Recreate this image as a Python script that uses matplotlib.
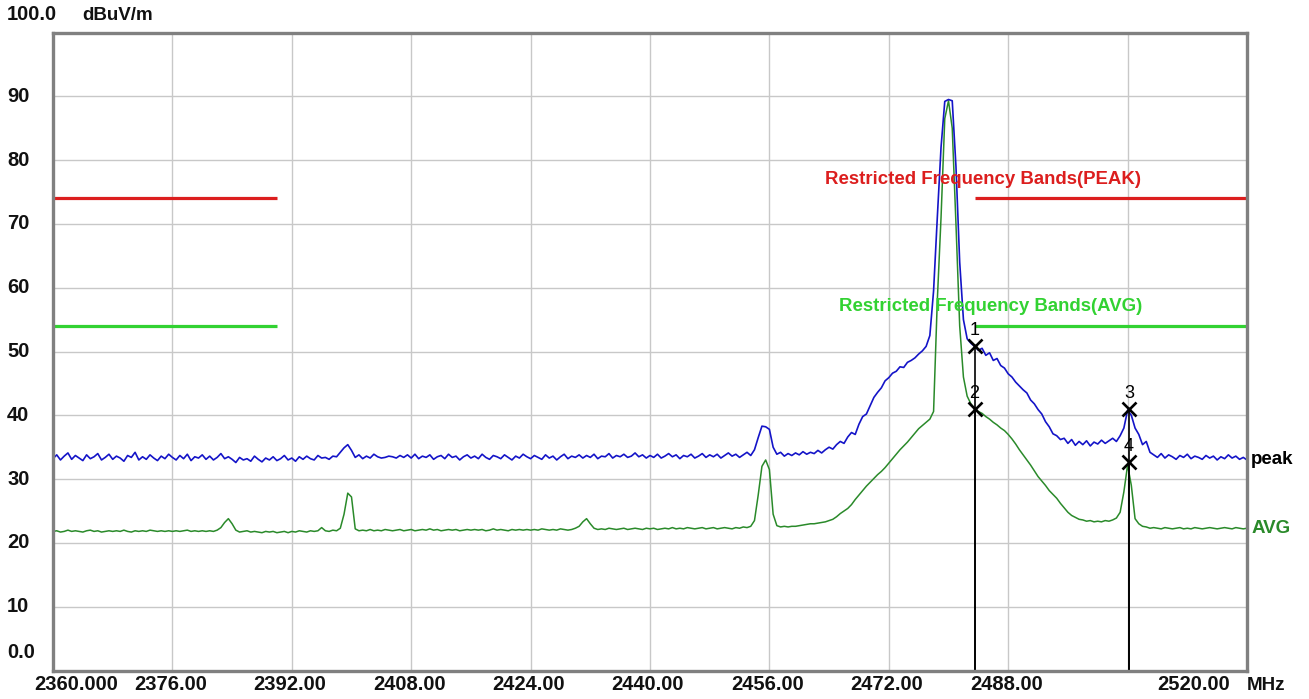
import numpy as np
import matplotlib
matplotlib.use("Agg")
import matplotlib.pyplot as plt
from matplotlib.transforms import blended_transform_factory

# ---- data -------------------------------------------------------------
freq_start, freq_stop, freq_step = 2360.0, 2520.0, 0.5

peak_trace = [
    33.2, 33.8, 33.0, 33.6, 34.1, 33.1, 33.7, 33.3, 32.9, 33.8, 33.2, 33.5, 34.0, 33.0, 33.4, 33.9,
    33.1, 33.6, 33.3, 32.8, 33.7, 33.4, 34.2, 33.0, 33.5, 33.1, 33.8, 33.3, 32.9, 33.6, 33.2, 33.9,
    33.4, 33.0, 33.7, 33.2, 33.9, 32.9, 33.5, 33.3, 33.8, 33.1, 33.6, 33.0, 33.4, 34.0, 33.2, 33.5,
    33.1, 32.6, 33.4, 33.0, 33.2, 32.8, 33.6, 33.1, 32.7, 33.3, 33.0, 33.5, 32.9, 33.2, 33.7, 33.0,
    33.3, 32.8, 33.5, 33.1, 33.6, 33.2, 33.0, 33.7, 33.3, 33.4, 33.1, 33.6, 33.5, 34.2, 34.9, 35.4,
    34.5, 33.4, 33.8, 33.2, 33.6, 33.3, 33.9, 33.5, 33.3, 33.4, 33.6, 33.5, 33.3, 33.7, 33.4, 33.8,
    33.3, 33.9, 33.2, 33.6, 33.4, 33.8, 33.1, 33.5, 33.7, 33.2, 33.9, 33.4, 33.6, 33.0, 33.5, 33.8,
    33.3, 33.6, 33.2, 33.9, 33.4, 33.1, 33.7, 33.5, 33.2, 33.8, 33.4, 33.0, 33.6, 33.3, 33.9, 33.5,
    33.2, 33.7, 33.4, 33.1, 33.8, 33.3, 33.6, 33.0, 33.5, 33.9, 33.2, 33.6, 33.4, 33.8, 33.3, 33.7,
    33.4, 33.9, 33.2, 33.6, 33.5, 34.0, 33.3, 33.7, 33.5, 33.9, 33.4, 33.6, 34.1, 33.5, 33.8, 33.3,
    33.7, 33.4, 33.9, 33.3, 33.6, 34.0, 33.5, 33.8, 33.2, 33.7, 33.5, 33.9, 33.3, 33.6, 34.0, 33.4,
    33.8, 33.5, 33.9, 33.3, 33.7, 34.1, 33.6, 33.9, 33.4, 33.8, 34.2, 33.7, 34.6, 36.5, 38.3, 38.2,
    37.8, 35.0, 33.9, 34.2, 33.6, 34.0, 33.7, 34.1, 33.8, 34.3, 33.9, 34.2, 34.0, 34.5, 34.1, 34.6,
    35.0, 34.7, 35.4, 35.9, 35.6, 36.6, 37.3, 37.0, 38.6, 39.8, 40.2, 41.5, 42.8, 43.6, 44.3, 45.4,
    45.9, 46.6, 46.9, 47.6, 47.5, 48.3, 48.6, 49.0, 49.6, 50.1, 50.8, 52.5, 59.5, 71.0, 82.0, 89.2,
    89.5, 89.3, 79.0, 64.0, 55.0, 52.0, 51.3, 50.8, 50.2, 50.5, 49.4, 49.8, 48.6, 48.9, 47.8, 47.4,
    46.5, 46.0, 45.2, 44.6, 44.0, 43.5, 42.4, 41.8, 40.9, 40.2, 39.0, 38.2, 37.1, 36.8, 36.2, 36.4,
    35.6, 36.2, 35.3, 35.9, 35.4, 36.0, 35.2, 35.8, 35.5, 36.1, 35.6, 36.0, 36.4, 35.9, 36.8, 38.0,
    40.8, 40.0, 38.0, 37.0, 35.4, 35.9, 34.2, 33.8, 33.4, 34.0, 33.3, 33.8, 33.5, 33.1, 33.7, 33.4,
    33.9, 33.2, 33.6, 33.4, 33.1, 33.7, 33.3, 33.6, 33.0, 33.5, 33.2, 33.8, 33.3, 33.6, 33.1, 33.4,
    33.0,
]

avg_trace = [
    21.8, 21.9, 21.7, 21.8, 22.0, 21.8, 21.9, 21.8, 21.7, 21.9, 22.0, 21.8, 21.9, 21.7, 21.8, 21.9,
    21.8, 21.9, 21.8, 22.0, 21.8, 21.7, 21.9, 21.8, 21.9, 21.8, 22.0, 21.9, 21.8, 21.9, 21.8, 21.9,
    21.8, 21.9, 21.8, 21.9, 22.0, 21.8, 21.9, 21.8, 21.9, 21.8, 21.9, 21.8, 22.0, 22.4, 23.2, 23.8,
    23.0, 22.0, 21.7, 21.8, 21.9, 21.7, 21.8, 21.7, 21.6, 21.8, 21.7, 21.8, 21.6, 21.7, 21.8, 21.6,
    21.8, 21.7, 21.9, 21.8, 21.7, 21.9, 21.8, 21.9, 22.4, 21.9, 21.8, 22.0, 21.9, 22.3, 24.5, 27.8,
    27.2, 22.2, 21.9, 22.0, 21.9, 22.1, 21.9, 22.0, 21.9, 22.1, 22.0, 21.9, 22.0, 22.1, 21.9, 22.0,
    22.1, 21.9, 22.0, 22.1, 22.0, 22.2, 22.0, 22.1, 21.9, 22.0, 22.1, 22.0, 22.1, 21.9, 22.0, 22.1,
    22.0, 22.1, 22.0, 22.1, 21.9, 22.0, 22.2, 22.0, 22.1, 22.0, 21.9, 22.1, 22.0, 22.1, 22.0, 22.1,
    22.0, 22.1, 22.0, 22.2, 22.1, 22.0, 22.1, 22.0, 22.2, 22.1, 22.0, 22.1, 22.3, 22.6, 23.3, 23.8,
    23.0, 22.3, 22.1, 22.2, 22.1, 22.3, 22.2, 22.1, 22.2, 22.3, 22.1, 22.2, 22.3, 22.2, 22.1, 22.3,
    22.2, 22.3, 22.1, 22.2, 22.3, 22.2, 22.4, 22.2, 22.3, 22.2, 22.4, 22.3, 22.2, 22.3, 22.4, 22.2,
    22.3, 22.4, 22.2, 22.3, 22.4, 22.3, 22.2, 22.4, 22.3, 22.5, 22.4, 22.6, 23.5, 27.5, 32.0, 33.0,
    31.5, 24.5, 22.7, 22.5, 22.6, 22.5, 22.6, 22.6, 22.7, 22.8, 22.9, 23.0, 23.0, 23.1, 23.2, 23.3,
    23.5, 23.7, 24.1, 24.6, 25.0, 25.4, 26.0, 26.8, 27.5, 28.2, 28.9, 29.5, 30.1, 30.7, 31.2, 31.8,
    32.5, 33.2, 33.9, 34.6, 35.2, 35.8, 36.5, 37.2, 37.9, 38.4, 38.9, 39.4, 40.6, 58.0, 71.0, 86.5,
    89.3, 85.0, 70.0, 54.0, 46.0, 43.0, 41.8, 41.0, 40.6, 40.3, 39.8, 39.4, 38.9, 38.5, 38.0, 37.6,
    37.0, 36.3, 35.5, 34.6, 33.8, 33.0, 32.2, 31.3, 30.4, 29.7, 29.0, 28.2, 27.6, 27.0, 26.2, 25.5,
    24.8, 24.3, 24.0, 23.7, 23.6, 23.4, 23.5, 23.3, 23.4, 23.3, 23.5, 23.4, 23.6, 23.9, 24.8, 28.0,
    32.2, 29.0, 23.8, 23.0, 22.6, 22.5, 22.3, 22.4, 22.3, 22.2, 22.4, 22.3, 22.2, 22.3, 22.4, 22.2,
    22.3, 22.2, 22.4, 22.3, 22.2, 22.3, 22.4, 22.3, 22.2, 22.3, 22.4, 22.3, 22.2, 22.4, 22.3, 22.2,
    22.3,
]

# restricted-band limits
peak_limit = 74.0
avg_limit = 54.0
band_edges_low = (2360.0, 2390.0)
band_edges_high = (2483.5, 2520.0)

# markers
marker_ids = ["1", "2", "3", "4"]
marker_freqs = [2483.5, 2483.5, 2504.2, 2504.2]
marker_levels = [50.8, 41.0, 41.0, 32.7]

x_tick_values = [2360, 2376, 2392, 2408, 2424, 2440, 2456, 2472, 2488, 2504, 2520]
x_tick_labels = ["2360.000", "2376.00", "2392.00", "2408.00", "2424.00", "2440.00",
                 "2456.00", "2472.00", "2488.00", "", "2520.00"]
y_tick_values = [0, 10, 20, 30, 40, 50, 60, 70, 80, 90, 100]
y_tick_labels = ["0.0", "10", "20", "30", "40", "50", "60", "70", "80", "90", "100.0"]

# ---- figure -----------------------------------------------------------
W, H, DPI = 1309, 699, 100
fig = plt.figure(figsize=(W / DPI, H / DPI), dpi=DPI, facecolor="white")
ax_l, ax_r, ax_t, ax_b = 53, 1247, 32.5, 670.5
ax = fig.add_axes([ax_l / W, (H - ax_b) / H, (ax_r - ax_l) / W, (ax_b - ax_t) / H])

FONT = "Liberation Sans"
LBL = 14.5
BLUE = "#1414c8"
DKGREEN = "#2a8a2a"
RED = "#dc1e1e"
LTGREEN = "#32d232"

freqs = np.arange(freq_start, freq_stop + freq_step / 2, freq_step)
assert len(freqs) == len(peak_trace) == len(avg_trace)

ax.set_xlim(freq_start, freq_stop)
ax.set_ylim(0, 100)
ax.set_xticks(x_tick_values)
ax.set_yticks(y_tick_values)
ax.tick_params(length=0, labelbottom=False, labelleft=False)
ax.grid(True, color="#c8c8c8", linewidth=1.0)
ax.set_axisbelow(True)
for sp in ax.spines.values():
    sp.set_color("#808080")
    sp.set_linewidth(2.4)

# limit lines
for lo, hi in (band_edges_low, band_edges_high):
    ax.plot([lo, hi], [peak_limit, peak_limit], color=RED, lw=2.3, solid_capstyle="butt")
    ax.plot([lo, hi], [avg_limit, avg_limit], color=LTGREEN, lw=2.3, solid_capstyle="butt")

# traces
ax.plot(freqs, avg_trace, color=DKGREEN, lw=1.1)
ax.plot(freqs, peak_trace, color=BLUE, lw=1.2)

# markers
for fid, f, lv in zip(marker_ids, marker_freqs, marker_levels):
    ax.plot([f, f], [0, lv], color="black", lw=1.2)
    ax.plot([f], [lv], marker="x", color="black", ms=10, mew=1.9)
    ax.annotate(fid, (f, lv), xytext=(0, 5), textcoords="offset points",
                ha="center", va="bottom", fontsize=13, family=FONT, color="black")

# band labels
ax.text(2484.6, 76.9, "Restricted Frequency Bands(PEAK)", color=RED, fontsize=13.4,
        fontweight="bold", family=FONT, ha="center", va="center")
ax.text(2485.6, 57.1, "Restricted Frequency Bands(AVG)", color=LTGREEN, fontsize=13.4,
        fontweight="bold", family=FONT, ha="center", va="center")

# trace names at the right edge
ax.annotate("peak", (1.0, peak_trace[-1]), xycoords=("axes fraction", "data"),
            xytext=(3, 0), textcoords="offset points", ha="left", va="center",
            fontsize=LBL - 1, fontweight="bold", family=FONT, color="black")
ax.annotate("AVG", (1.0, avg_trace[-1]), xycoords=("axes fraction", "data"),
            xytext=(3, 0), textcoords="offset points", ha="left", va="center",
            fontsize=LBL - 1, fontweight="bold", family=FONT, color=DKGREEN)

# y tick labels, left aligned at the figure edge
trans_y = blended_transform_factory(fig.transFigure, ax.transData)
for v, lab in zip(y_tick_values, y_tick_labels):
    if v == 100:
        continue
    dy = 2.8 if v == 0 else 0.0
    ax.text(7 / W, v + dy, lab, transform=trans_y, ha="left", va="center",
            fontsize=LBL, fontweight="bold", family=FONT, color="#111111")
fig.text(7 / W, 1 - 15 / H, y_tick_labels[-1], ha="left", va="center",
         fontsize=LBL, fontweight="bold", family=FONT, color="#111111")
fig.text(82 / W, 1 - 15 / H, "dBuV/m", ha="left", va="center",
         fontsize=LBL - 1, fontweight="bold", family=FONT, color="#111111")

# x tick labels below the frame
trans_x = blended_transform_factory(ax.transData, fig.transFigure)
px_per_mhz = (ax_r - ax_l) / (freq_stop - freq_start)
for v, lab in zip(x_tick_values, x_tick_labels):
    if not lab:
        continue
    if v == freq_start:
        shift = 23 / px_per_mhz
    elif v == freq_stop:
        shift = -53 / px_per_mhz
    else:
        shift = -2 / px_per_mhz
    ax.text(v + shift, 1 - 685 / H, lab, transform=trans_x, ha="center", va="center",
            fontsize=LBL, fontweight="bold", family=FONT, color="#111111")
fig.text(1247 / W, 1 - 685 / H, "MHz", ha="left", va="center",
         fontsize=LBL - 1, fontweight="bold", family=FONT, color="#111111")

fig.savefig("out.png", dpi=DPI, facecolor="white")
